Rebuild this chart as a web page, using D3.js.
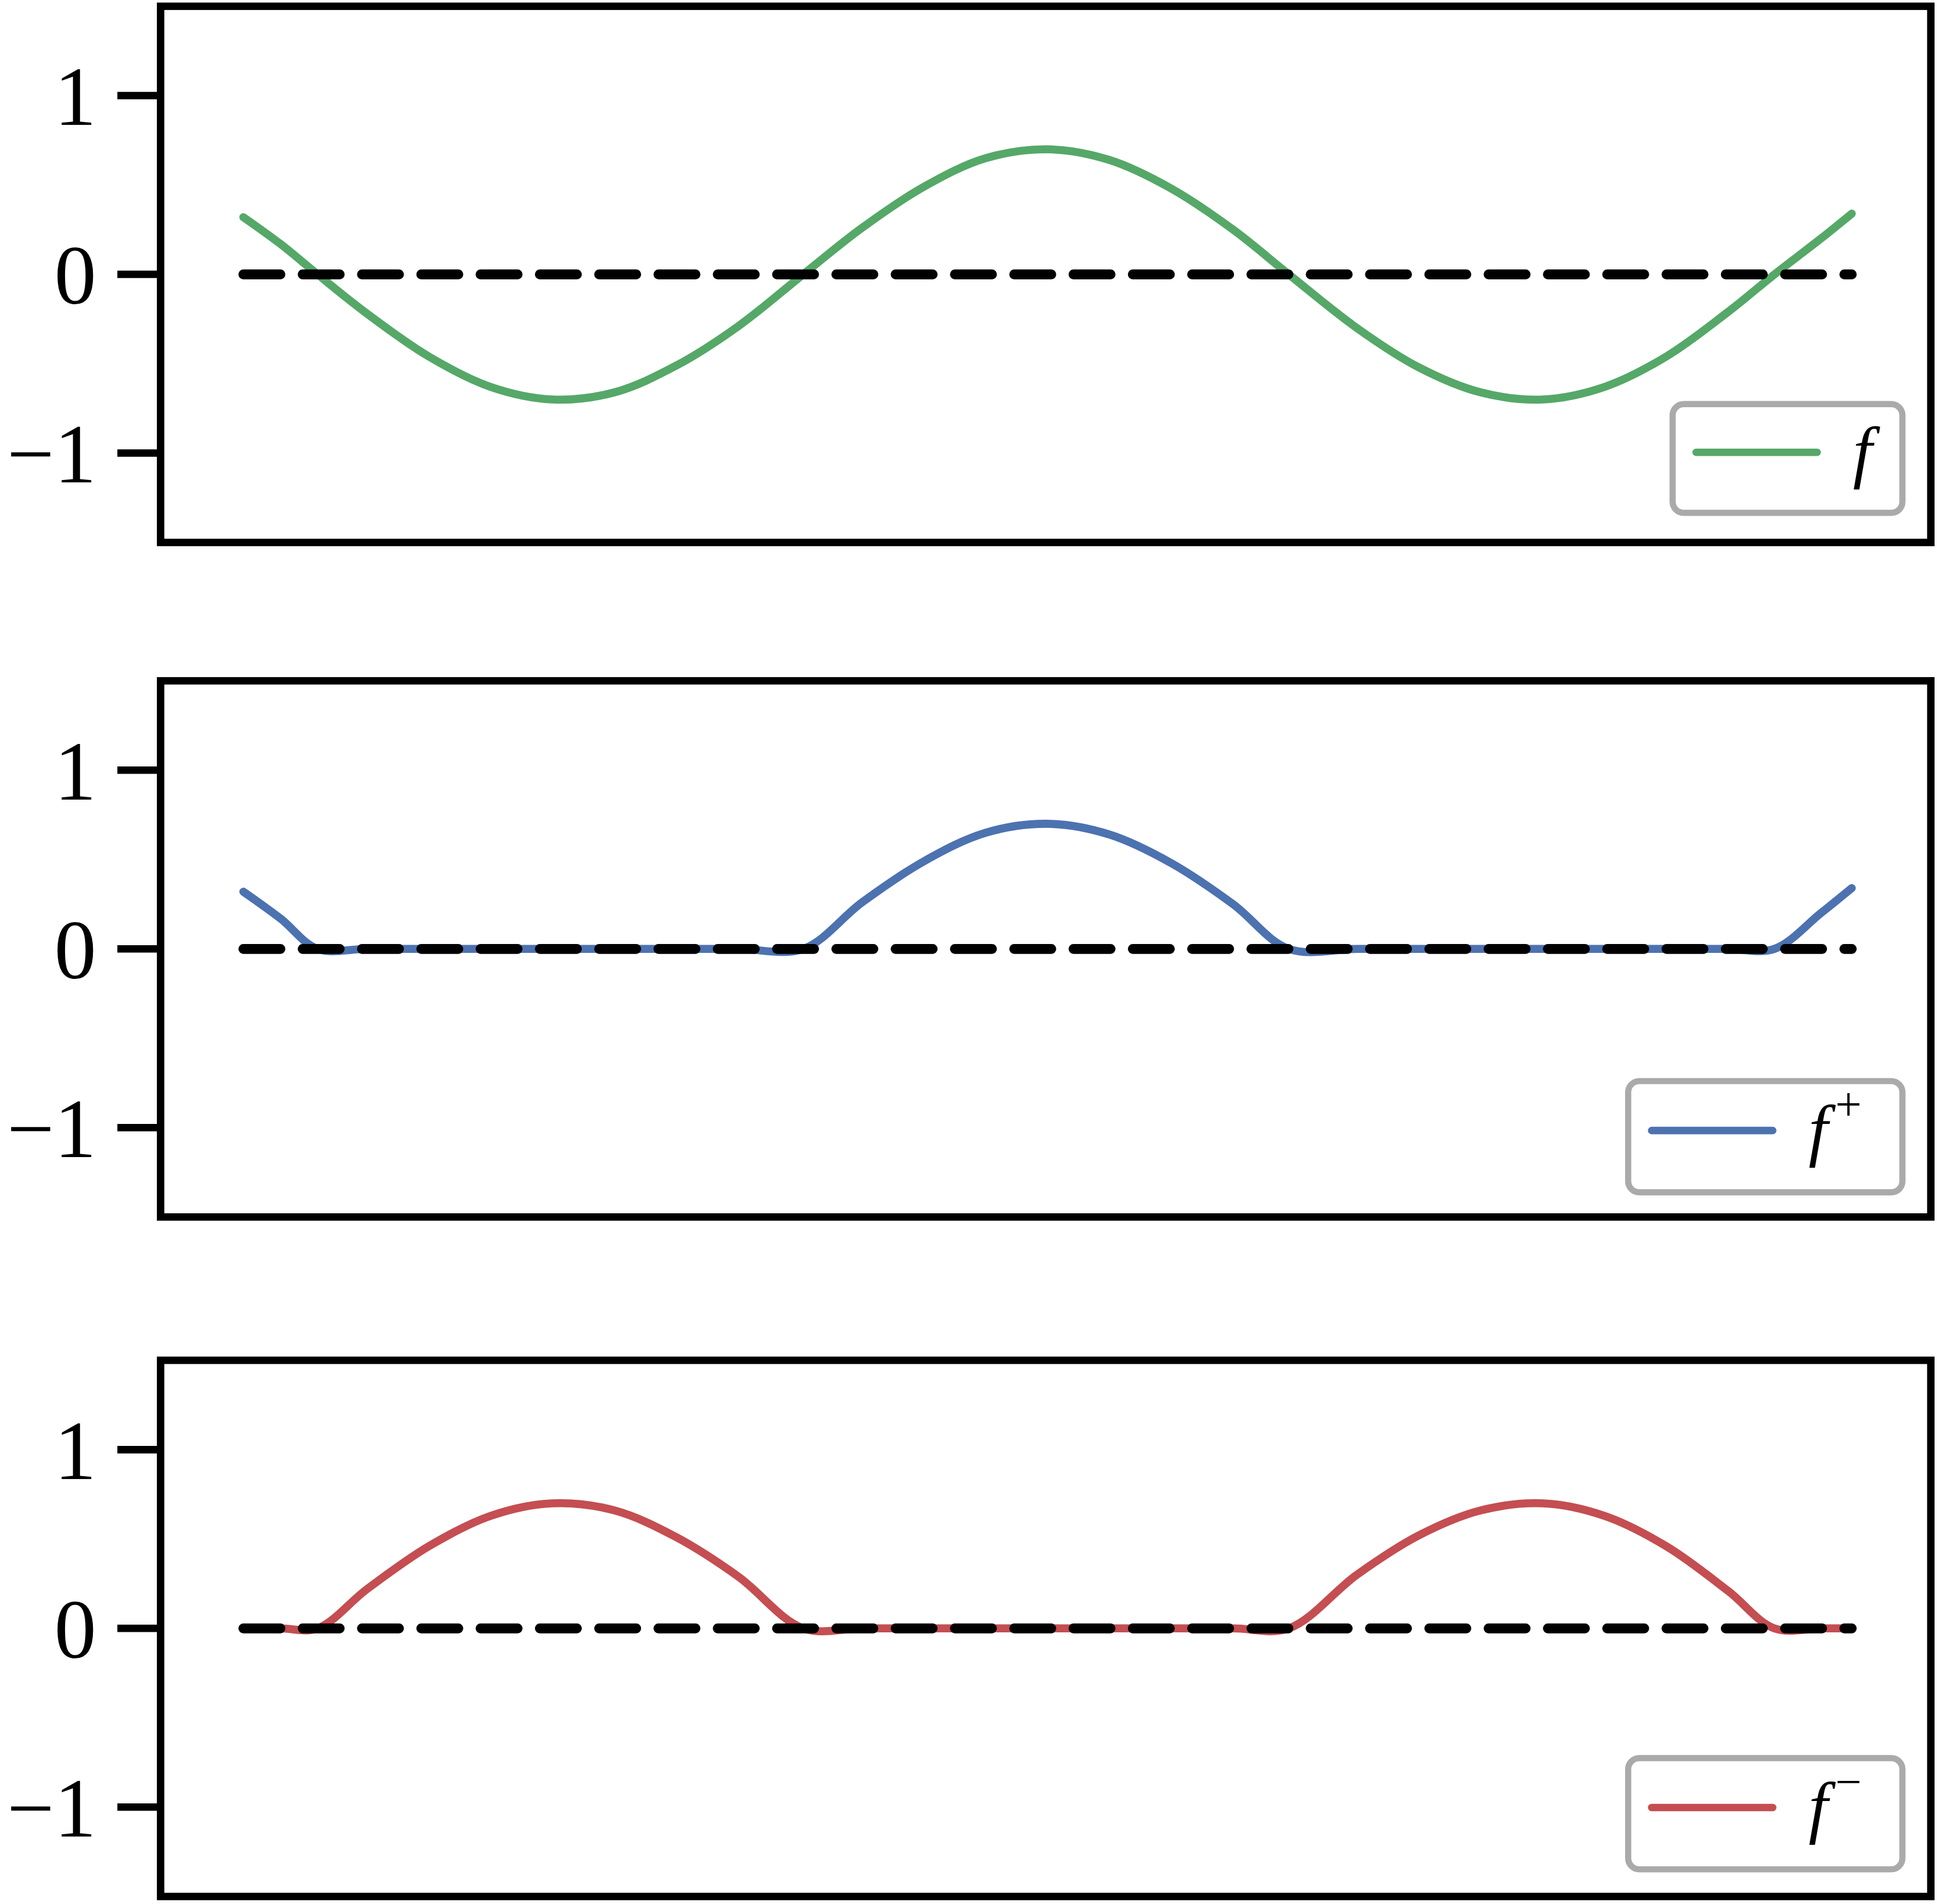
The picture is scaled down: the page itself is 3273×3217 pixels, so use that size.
<!DOCTYPE html>
<html><head><meta charset="utf-8">
<script src="https://cdnjs.cloudflare.com/ajax/libs/d3/7.8.5/d3.min.js"></script>
<style>body{margin:0;background:#fff}</style>
</head><body>
<script>
// sample positions and values
var xs    = [-0.48,-0.24,0,0.32,0.72,1.12,1.52,1.92,2.32,2.72,3.14,3.52,3.92,4.32,4.72,5.12,5.52,5.92,6.28,6.72,7.12,7.52,7.92,8.32,8.72,9.12,9.42,9.72,9.92];
var f     = [0.32,0.17,0,-0.22,-0.46,-0.63,-0.70,-0.66,-0.51,-0.29,0,0.26,0.49,0.65,0.70,0.64,0.48,0.25,0,-0.30,-0.52,-0.66,-0.70,-0.63,-0.46,-0.21,0,0.20,0.34];
var fPlus = [0.32,0.17,0,0,0,0,0,0,0,0,0,0.26,0.49,0.65,0.70,0.64,0.48,0.25,0,0,0,0,0,0,0,0,0,0.20,0.34];
var fMinus= [0,0,0,0.22,0.46,0.63,0.70,0.66,0.51,0.29,0,0,0,0,0,0,0,0,0,0.30,0.52,0.66,0.70,0.63,0.46,0.21,0,0,0];
var yTicks = [-1, 0, 1];
var yTickLabels = ["\u22121", "0", "1"];

var panels = [
  {data: f, color: "#55a868", label: "f", sup: "", top: 5, box: [1354, 327, 186, 88]},
  {data: fPlus, color: "#4c72b0", label: "f", sup: "+", top: 551, box: [1318, 875, 222, 90]},
  {data: fMinus, color: "#c44e52", label: "f", sup: "\u2212", top: 1101, box: [1318, 1423, 222, 90]}
];

var svg = d3.select("body").append("svg")
  .attr("width", 3273).attr("height", 3217)
  .attr("viewBox", "0 0 1568 1541");

var left = 130, right = 1563, h = 434;
var x = d3.scaleLinear().domain([-0.48, 9.92]).range([197, 1499]);

panels.forEach(function (p) {
  var y = d3.scaleLinear().domain([-1.5, 1.5]).range([p.top + h, p.top]);
  var g = svg.append("g");

  // ticks
  yTicks.forEach(function (t, i) {
    g.append("line").attr("x1", 95).attr("x2", left).attr("y1", y(t)).attr("y2", y(t))
      .attr("stroke", "#000").attr("stroke-width", 6);
    g.append("text").attr("x", 78).attr("y", y(t)).attr("dy", "0.35em")
      .attr("text-anchor", "end").attr("font-family", "Liberation Serif, serif")
      .attr("font-size", 68).text(yTickLabels[i]);
  });

  var line = d3.line().x(function (d, i) { return x(xs[i]); })
    .y(function (d) { return y(d); }).curve(d3.curveCatmullRom.alpha(0.5));

  g.append("path").attr("d", line(p.data)).attr("fill", "none")
    .attr("stroke", p.color).attr("stroke-width", 6.5).attr("stroke-linecap", "round")
    .attr("stroke-linejoin", "round");

  g.append("line").attr("x1", x(-0.48)).attr("x2", x(9.92)).attr("y1", y(0)).attr("y2", y(0))
    .attr("stroke", "#000").attr("stroke-width", 8).attr("stroke-linecap", "round")
    .attr("stroke-dasharray", "30 18");

  g.append("rect").attr("x", left).attr("y", p.top).attr("width", right - left).attr("height", h)
    .attr("fill", "none").attr("stroke", "#000").attr("stroke-width", 6);

  // legend
  var b = p.box;
  g.append("rect").attr("x", b[0]).attr("y", b[1]).attr("width", b[2]).attr("height", b[3])
    .attr("rx", 9).attr("fill", "#fff").attr("stroke", "#aaa").attr("stroke-width", 5);
  var ly = b[1] + b[3] / 2 - 5;
  g.append("line").attr("x1", b[0] + 19).attr("x2", b[0] + 117).attr("y1", ly).attr("y2", ly)
    .attr("stroke", p.color).attr("stroke-width", 6).attr("stroke-linecap", "round");
  var t = g.append("text").attr("x", b[0] + 146).attr("y", ly + 18)
    .attr("font-family", "Liberation Serif, serif").attr("font-size", 56).attr("font-style", "italic")
    .text(p.label);
  if (p.sup) {
    t.append("tspan").attr("font-style", "normal").attr("font-size", 38).attr("dy", -26).attr("dx", 6).text(p.sup);
  }
});
</script>
</body></html>
